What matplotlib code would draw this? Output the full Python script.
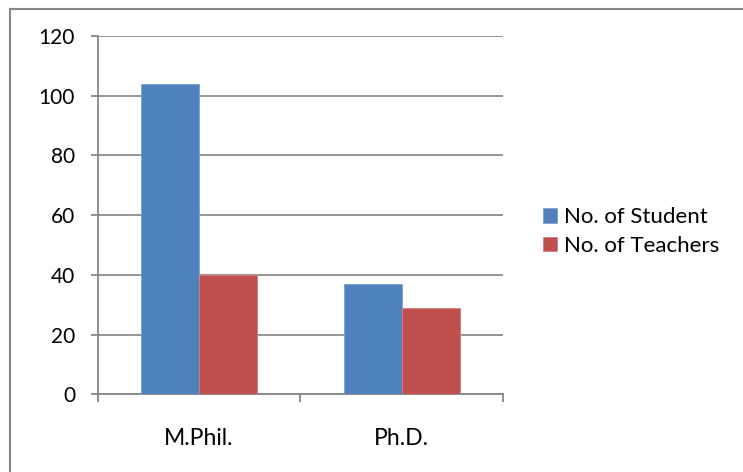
import matplotlib
matplotlib.use("Agg")
import matplotlib.pyplot as plt
from matplotlib.lines import Line2D
import numpy as np

categories = ["M.Phil.", "Ph.D."]
students = [104, 37]
teachers = [40, 29]
series_names = ["No. of Student", "No. of Teachers"]
yticks = [0, 20, 40, 60, 80, 100, 120]

plt.rcParams['font.family'] = ['Lato', 'DejaVu Sans']

fig = plt.figure(figsize=(7.43, 4.72), dpi=100)
ax = fig.add_axes([0.1315, 0.1646, 0.677 - 0.1315, 0.9237 - 0.1646])

x = np.arange(len(categories))
w = 0.2857
ax.bar(x - w/2, students, w, color="#4F81BD", label=series_names[0], zorder=3,
       edgecolor="#7EA1D0", linewidth=0.6)
ax.bar(x + w/2, teachers, w, color="#C0504D", label=series_names[1], zorder=3,
       edgecolor="#D27F7D", linewidth=0.6)

ax.set_xlim(-0.5, 1.5)
ax.set_ylim(0, 120)
ax.set_yticks(yticks)
ax.yaxis.grid(True, color="#8C8C8C", linewidth=1.3, zorder=0)
ax.set_axisbelow(True)

gray = "#868686"
for s in ["top", "right"]:
    ax.spines[s].set_visible(False)
for s in ["left", "bottom"]:
    ax.spines[s].set_color(gray)
    ax.spines[s].set_linewidth(1.3)

ax.set_xticks([-0.5, 0.5, 1.5])
ax.set_xticklabels([])
ax.set_xticks(x, minor=True)
ax.set_xticklabels(categories, minor=True, fontsize=16.5)
ax.tick_params(axis='x', which='major', direction='out', length=5.5, color=gray, width=1.3)
ax.tick_params(axis='x', which='minor', length=0, pad=24)
ax.tick_params(axis='y', direction='out', length=5, color=gray, width=1.3, labelsize=15, pad=11.3)

leg = fig.legend(*ax.get_legend_handles_labels(), loc='center left',
                 bbox_to_anchor=(543/743, 1 - 231.5/472), frameon=False,
                 fontsize=16, handlelength=0.63, handleheight=0.63, handletextpad=0.3,
                 labelspacing=0.37, borderaxespad=0, borderpad=0)

fig.add_artist(Line2D([9.5/743, 9.5/743], [0, 1 - 8.5/472], transform=fig.transFigure,
                      color=gray, linewidth=1.5))
fig.add_artist(Line2D([9.5/743, 1], [1 - 8.5/472, 1 - 8.5/472], transform=fig.transFigure,
                      color=gray, linewidth=1.5))

fig.savefig("out.png", dpi=100)
